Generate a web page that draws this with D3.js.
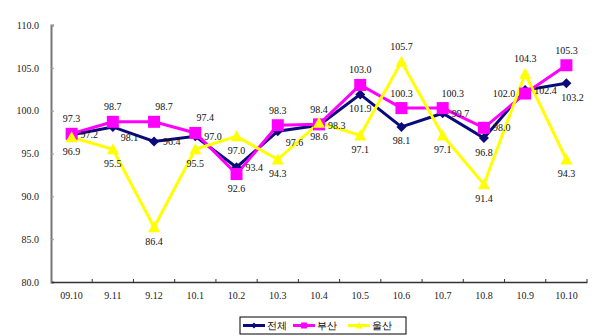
<!DOCTYPE html>
<html><head><meta charset="utf-8">
<script src="https://cdn.jsdelivr.net/npm/d3@7"></script>
<style>
html,body{margin:0;padding:0;background:#fff;}
svg{display:block;}
text{font-family:"Liberation Serif","Times New Roman",serif;}
</style></head>
<body>
<svg id="c" width="600" height="336"></svg>
<script>
const categories = ["09.10","9.11","9.12","10.1","10.2","10.3","10.4","10.5","10.6","10.7","10.8","10.9","10.10"];
const seriesNames = ["전체","부산","울산"];
const totalValues = [97.2,98.1,96.4,97.0,93.4,97.6,98.3,101.9,98.1,99.7,96.8,102.4,103.2];
const busanValues = [97.3,98.7,98.7,97.4,92.6,98.3,98.4,103.0,100.3,100.3,98.0,102.0,105.3];
const ulsanValues = [96.9,95.5,86.4,95.5,97.0,94.3,98.6,97.1,105.7,97.1,91.4,104.3,94.3];
const yTicks = [80,85,90,95,100,105,110];

// label placement (layout only)
const totalPlace = ["r","rb","r","r","r","rb","r","b","b","r","b","r","br"];
const busanPlace = ["a","a","ar","ar","b","a","a","a","a","ar","r","l","a"];
const ulsanPlace = ["b","b","b","b","b","b","b","b","a","b","b","a","b"];

const colors = ["#0a0a7a","#ff00ff","#ffff00"];
const svg = d3.select("#c");
const x = d3.scaleBand().domain(categories).range([51,587]);
const y = d3.scaleLinear().domain([80,110]).range([282,25]);
const cx = d => x(d) + x.bandwidth()/2;

// axes
const yAx = svg.append("g").attr("transform","translate(51,0)")
  .call(d3.axisLeft(y).tickValues(yTicks).tickSize(-3).tickPadding(12).tickFormat(d3.format(".1f")));
yAx.select(".domain").attr("stroke","#777").attr("stroke-width",2);
yAx.selectAll(".tick line").attr("stroke","#999");
yAx.selectAll("text").attr("font-size",10).attr("fill","#222").attr("font-family","Liberation Serif");

const xAx = svg.append("g").attr("transform","translate(0,282)")
  .call(d3.axisBottom(x).tickSize(0).tickPadding(10));
xAx.select(".domain").attr("stroke","#333").attr("stroke-width",1.5);
xAx.selectAll("text").attr("font-size",10).attr("fill","#222").attr("font-family","Liberation Serif");
// boundary ticks
svg.append("g").selectAll("line").data(categories.slice(1).concat(["end"])).join("line")
  .attr("x1",(d,i)=> i<categories.length-1 ? x(d) : 587)
  .attr("x2",(d,i)=> i<categories.length-1 ? x(d) : 587)
  .attr("y1",279).attr("y2",282).attr("stroke","#333");

const all = [totalValues,busanValues,ulsanValues];
const places = [totalPlace,busanPlace,ulsanPlace];
const line = d3.line().x((d,i)=>cx(categories[i])).y(d=>y(d));

all.forEach((vals,s)=>{
  svg.append("path").datum(vals).attr("d",line).attr("fill","none")
    .attr("stroke",colors[s]).attr("stroke-width",3);
});
function marker(g,s,px,py){
  if(s===0){
    g.append("path").attr("d",`M${px},${py-5}L${px+5},${py}L${px},${py+5}L${px-5},${py}Z`).attr("fill",colors[0]);
  } else if(s===1){
    g.append("rect").attr("x",px-6).attr("y",py-6).attr("width",12).attr("height",12).attr("fill",colors[1]);
  } else {
    g.append("path").attr("d",`M${px},${py-6}L${px+6},${py+5}L${px-6},${py+5}Z`).attr("fill",colors[2]);
  }
}
all.forEach((vals,s)=>{
  const g = svg.append("g");
  vals.forEach((v,i)=> marker(g,s,cx(categories[i]),y(v)));
});
// labels
const off = {r:[9,0,"start"], rb:[8,11,"start"], b:[0,14,"middle"], br:[6,14,"middle"], a:[0,-15,"middle"], ar:[10,-15,"middle"], l:[-10,0,"end"]};
all.forEach((vals,s)=>{
  svg.append("g").selectAll("text").data(vals).join("text")
    .attr("x",(d,i)=>cx(categories[i])+off[places[s][i]][0])
    .attr("y",(d,i)=>y(d)+off[places[s][i]][1])
    .attr("dy","0.35em")
    .attr("text-anchor",(d,i)=>off[places[s][i]][2])
    .attr("font-size",10).attr("fill","#111")
    .text(d=>d.toFixed(1));
});

// legend
const lg = svg.append("g");
lg.append("rect").attr("x",240).attr("y",317).attr("width",166).attr("height",17)
  .attr("fill","#fff").attr("stroke","#000").attr("stroke-width",1);
const lx = [243,293,348];
seriesNames.forEach((n,s)=>{
  lg.append("line").attr("x1",lx[s]).attr("x2",lx[s]+22).attr("y1",325.5).attr("y2",325.5)
    .attr("stroke",colors[s]).attr("stroke-width",3);
  const px = lx[s]+11, py = 325.5;
  if(s===0) lg.append("path").attr("d",`M${px},${py-3}L${px+3},${py}L${px},${py+3}L${px-3},${py}Z`).attr("fill",colors[0]);
  else if(s===1) lg.append("rect").attr("x",px-3).attr("y",py-3).attr("width",6).attr("height",6).attr("fill",colors[1]);
  else lg.append("path").attr("d",`M${px},${py-3.5}L${px+3.5},${py+3}L${px-3.5},${py+3}Z`).attr("fill",colors[2]);
  lg.append("text").attr("x",lx[s]+24).attr("y",325.5).attr("dy","0.35em")
    .attr("font-family","Noto Sans CJK KR").attr("font-size",10).attr("fill","#000").text(n);
});
</script>
</body></html>
